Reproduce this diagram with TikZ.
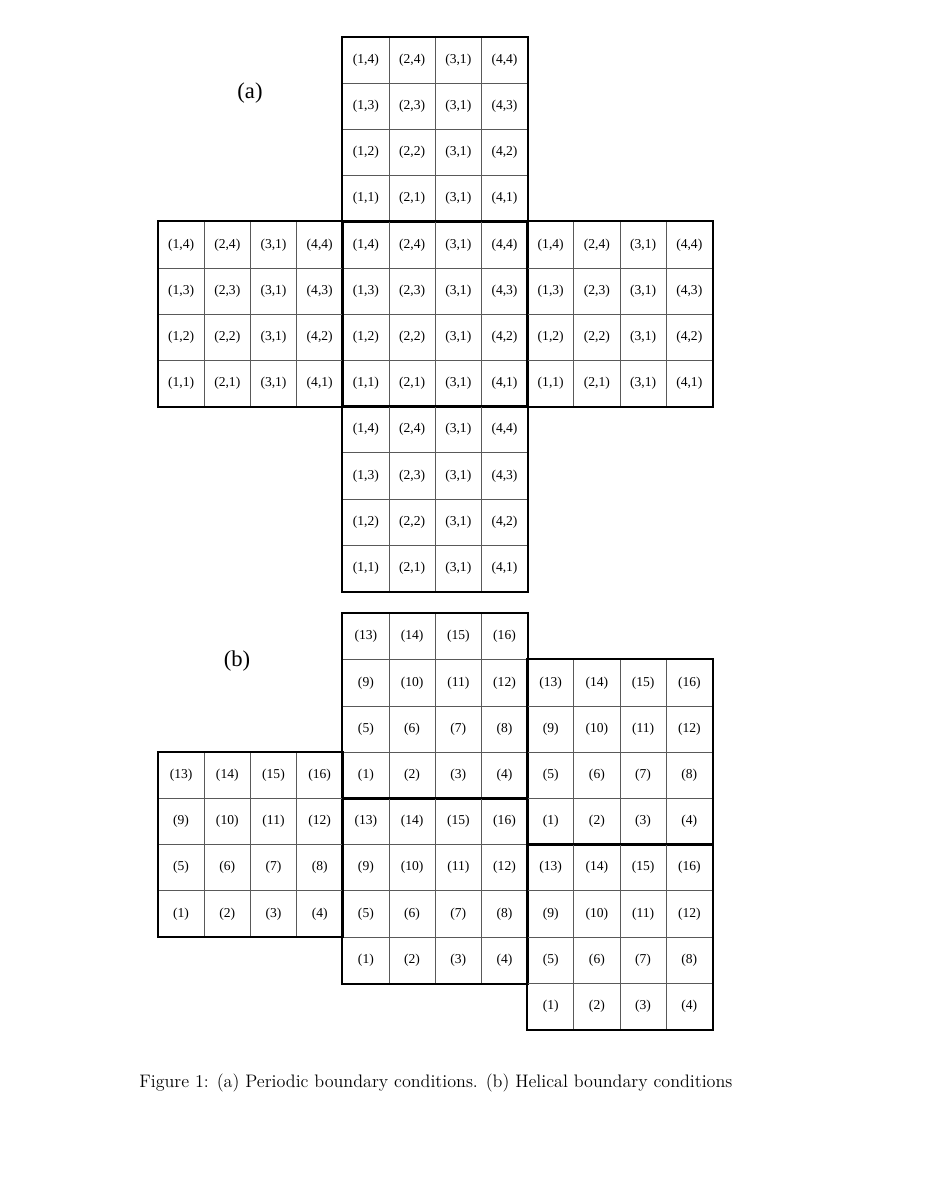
\documentclass[tikz,border=0pt]{standalone}
\usepackage{fontspec}
\usepackage{tikz}
\usepackage{xcolor}
\usetikzlibrary{positioning}
\newfontfamily\timesfont{Liberation Serif}

\begin{document}
\begin{tikzpicture}[x=1.0772cm,y=1.0772cm,
  cell/.style={rectangle,draw=black!65,line width=0.5pt,inner sep=0pt,minimum size=1.0772cm,
    font=\timesfont\fontsize{9}{10}\selectfont},
  blockline/.style={draw=black,line width=1.4pt},
  partlabel/.style={font=\timesfont\fontsize{15}{17}\selectfont}]
\useasboundingbox (-3.4199,0.8009) rectangle (16.623,-25.130);
% (a) periodic
\foreach \bx/\by/\bn in {4/0/at,4/-4/am,4/-8/ab,0/-4/al,8/-4/ar}{
  \foreach \i in {1,...,4}{
    \foreach \r in {1,...,4}{
      \pgfmathtruncatemacro{\j}{5-\r}
      \node[cell] (\bn-\i-\r) at ({\bx+\i-0.5},{\by-\r+0.5}) {\ifnum\i=3 (3,1)\else(\i,\j)\fi};
    }
  }
  \draw[blockline] (\bn-1-1.north west) rectangle (\bn-4-4.south east);
}
% (b) helical
\foreach \bx/\by/\bn in {4/-12.48/bt,4/-16.48/bm,8/-13.48/brt,8/-17.48/brb,0/-15.48/bl}{
  \foreach \i in {1,...,4}{
    \foreach \r in {1,...,4}{
      \pgfmathtruncatemacro{\k}{4*(4-\r)+\i}
      \node[cell] (\bn-\i-\r) at ({\bx+\i-0.5},{\by-\r+0.5}) {(\k)};
    }
  }
  \draw[blockline] (\bn-1-1.north west) rectangle (\bn-4-4.south east);
}
\node[partlabel] (la) at (1.991,-1.212) {(a)};
\node[partlabel] (lb) at (1.710,-13.51) {(b)};
\node[anchor=west,inner sep=0pt,font=\fontsize{12}{14}\selectfont] (cap) at (-0.411,-22.64) {Figure 1: (a) Periodic boundary conditions. (b) Helical boundary conditions};
\end{tikzpicture}
\end{document}
